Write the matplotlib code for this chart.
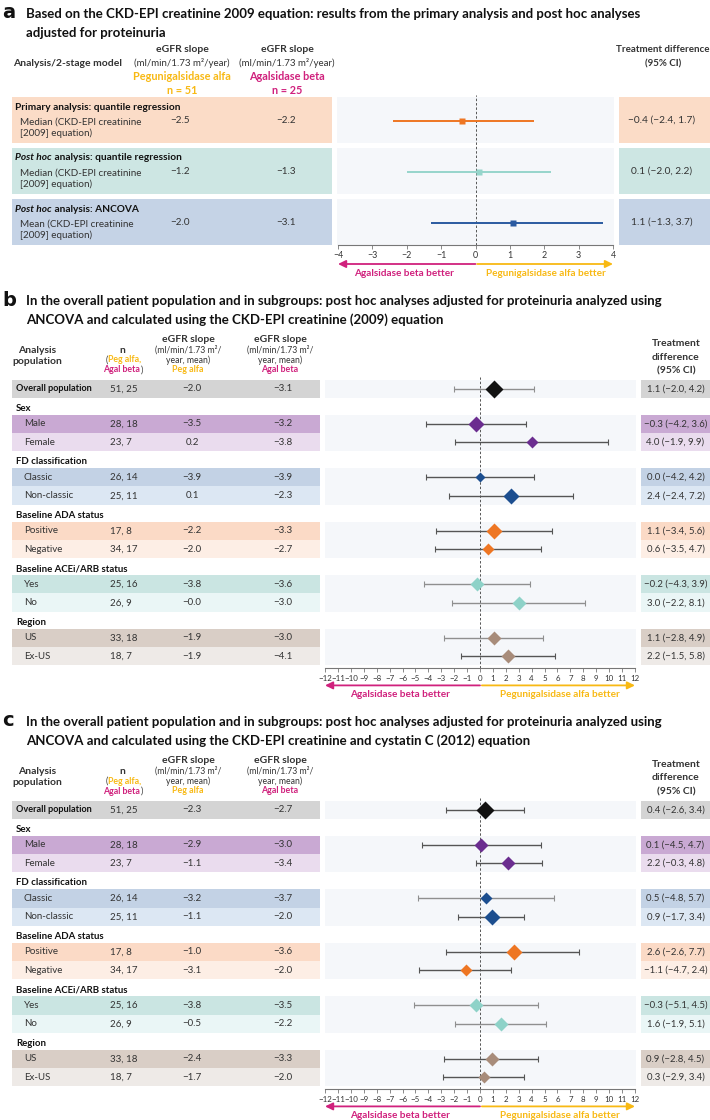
import matplotlib
matplotlib.use('Agg')
import matplotlib.pyplot as plt
import matplotlib.transforms as mtransforms
from matplotlib.patches import Rectangle

plt.rcParams['font.family'] = ['Lato', 'DejaVu Sans']

# ------------------------------------------------------------------ data
# Panel a
a_titles = [[('Primary analysis: quantile regression', 'normal')],
            [('Post hoc', 'italic'), (' analysis: quantile regression', 'normal')],
            [('Post hoc', 'italic'), (' analysis: ANCOVA', 'normal')]]
a_stat = ['Median', 'Median', 'Mean']
a_peg = [-2.5, -1.2, -2.0]
a_agal = [-2.2, -1.3, -3.1]
a_est = [-0.4, 0.1, 1.1]
a_lo = [-2.4, -2.0, -1.3]
a_hi = [1.7, 2.2, 3.7]
a_n_peg, a_n_agal = 51, 25
a_ticks = [-4, -3, -2, -1, 0, 1, 2, 3, 4]

# Panels b and c (shared rows)
row_labels = ['Overall population', 'Male', 'Female', 'Classic', 'Non-classic',
              'Positive', 'Negative', 'Yes', 'No', 'US', 'Ex-US']
group_labels = ['Sex', 'FD classification', 'Baseline ADA status',
                'Baseline ACEi/ARB status', 'Region']
n_peg = [51, 28, 23, 26, 25, 17, 34, 25, 26, 33, 18]
n_agal = [25, 18, 7, 14, 11, 8, 17, 16, 9, 18, 7]

b_peg = [-2.0, -3.5, 0.2, -3.9, 0.1, -2.2, -2.0, -3.8, -0.0, -1.9, -1.9]
b_agal = [-3.1, -3.2, -3.8, -3.9, -2.3, -3.3, -2.7, -3.6, -3.0, -3.0, -4.1]
b_est = [1.1, -0.3, 4.0, 0.0, 2.4, 1.1, 0.6, -0.2, 3.0, 1.1, 2.2]
b_lo = [-2.0, -4.2, -1.9, -4.2, -2.4, -3.4, -3.5, -4.3, -2.2, -2.8, -1.5]
b_hi = [4.2, 3.6, 9.9, 4.2, 7.2, 5.6, 4.7, 3.9, 8.1, 4.9, 5.8]

c_peg = [-2.3, -2.9, -1.1, -3.2, -1.1, -1.0, -3.1, -3.8, -0.5, -2.4, -1.7]
c_agal = [-2.7, -3.0, -3.4, -3.7, -2.0, -3.6, -2.0, -3.5, -2.2, -3.3, -2.0]
c_est = [0.4, 0.1, 2.2, 0.5, 0.9, 2.6, -1.1, -0.3, 1.6, 0.9, 0.3]
c_lo = [-2.6, -4.5, -0.3, -4.8, -1.7, -2.6, -4.7, -5.1, -1.9, -2.8, -2.9]
c_hi = [3.4, 4.7, 4.8, 5.7, 3.4, 7.7, 2.4, 4.5, 5.1, 4.5, 3.4]
bc_ticks = list(range(-12, 13))

# ------------------------------------------------------------------ styles
PEG = '#F8B914'
AGAL = '#D0217D'
TXT = '#333333'
PLOTBG = '#F5F7FA'
a_box = ['#FBDCC7', '#CDE6E3', '#C5D3E6']
a_mark = ['#EE7623', '#96D5CB', '#2A5AA0']
box_cols = ['#D4D4D4', '#C9A9D3', '#EADCEE', '#C3D2E5', '#DCE7F3', '#FBDAC6',
            '#FDEEE5', '#CAE5E2', '#EAF6F6', '#D9CEC6', '#EEEAE7']
mark_cols = ['#111111', '#6B2D8F', '#6B2D8F', '#1C4E8F', '#1C4E8F', '#EE7623',
             '#EE7623', '#8ED2C8', '#8ED2C8', '#A88C7A', '#A88C7A']
DARK, GREY = '#555555', '#8F8F8F'
b_ecol = [GREY, DARK, DARK, DARK, DARK, DARK, DARK, GREY, GREY, GREY, DARK]
c_ecol = [DARK, DARK, DARK, GREY, DARK, DARK, DARK, GREY, GREY, DARK, DARK]
b_dw = [18, 15, 11, 9, 15, 15, 11, 13, 13, 13, 13]   # diamond widths (px)
c_dw = [18, 13, 13, 11, 15, 15, 11, 13, 13, 13, 11]

TITLE_FS = 9.5
HDR_FS = 7.5
W, H = 710, 1120
fig = plt.figure(figsize=(7.1, 11.2), dpi=100)
L = fig.add_axes([0, 0, 1, 1])
L.set_xlim(0, W)
L.set_ylim(H, 0)
L.axis('off')
R = fig.canvas.get_renderer()


def fmt(v):
    return f'{v:.1f}'.replace('-', '\u2212')


def seg_text(x, y, segs, ha='center', size=6.5, va='center'):
    """segs: list of (text, color, weight, style)"""
    objs = []
    for s, col, wt, st in segs:
        t = L.text(0, y, s, color=col, fontsize=size, fontweight=wt,
                   fontstyle=st, va=va, ha='left')
        objs.append(t)
    widths = [t.get_window_extent(R).width for t in objs]
    total = sum(widths)
    x0 = x - total / 2 if ha == 'center' else x
    for t, w in zip(objs, widths):
        t.set_x(x0)
        x0 += w


def txt(x, y, s, size=6.5, color=TXT, weight='normal', ha='center', **kw):
    L.text(x, y, s, fontsize=size, color=color, fontweight=weight, ha=ha,
           va='center', **kw)


def rect(x0, y0, x1, y1, col):
    L.add_patch(Rectangle((x0, y0), x1 - x0, y1 - y0, facecolor=col,
                          edgecolor='none', zorder=0))


def forest_axes(x0, x1, y0, y1, ticks, tfs):
    ax = fig.add_axes([x0 / W, 1 - y1 / H, (x1 - x0) / W, (y1 - y0) / H])
    ax.set_xlim(ticks[0], ticks[-1])
    ax.set_ylim(y1, y0)
    ax.patch.set_alpha(0)
    for s in ['top', 'left', 'right']:
        ax.spines[s].set_visible(False)
    ax.spines['bottom'].set_color('#777777')
    ax.spines['bottom'].set_linewidth(0.8)
    ax.set_yticks([])
    ax.set_xticks(ticks)
    ax.set_xticklabels([fmt(t).replace('.0', '') for t in ticks])
    ax.tick_params(axis='x', length=3, width=0.6, color='#777777',
                   labelsize=tfs, labelcolor=TXT, pad=1.5)
    ax.axvline(0, color='#555555', lw=0.7, ls=(0, (2.5, 2)), zorder=1)
    return ax


def arrows(ax, y, lo, hi, ylab, size=7.2):
    tr = mtransforms.blended_transform_factory(ax.transData, L.transData)
    ax.annotate('', xy=(lo, y), xytext=(0, y), xycoords=tr, textcoords=tr,
                arrowprops=dict(arrowstyle='-|>,head_length=0.45,head_width=0.22',
                                color=AGAL, lw=1.3, shrinkA=0, shrinkB=0),
                annotation_clip=False)
    ax.annotate('', xy=(hi, y), xytext=(hi * 0.012, y), xycoords=tr, textcoords=tr,
                arrowprops=dict(arrowstyle='-|>,head_length=0.45,head_width=0.22',
                                color=PEG, lw=1.3, shrinkA=0, shrinkB=0),
                annotation_clip=False)
    p0 = ax.transData.transform((lo, 0))[0]
    pz = ax.transData.transform((0, 0))[0]
    p1 = ax.transData.transform((hi, 0))[0]
    txt((p0 + pz) / 2 - 3, ylab, 'Agalsidase beta better', size=size, color=AGAL, weight='bold')
    txt((pz + p1) / 2 + 2, ylab, 'Pegunigalsidase alfa better', size=size, color=PEG, weight='bold')


# ------------------------------------------------------------------ panel a
txt(2, 12, 'a', size=14, color='#111111', weight='bold', ha='left', family='DejaVu Sans')
txt(26, 14, 'Based on the CKD-EPI creatinine 2009 equation: results from the primary analysis and post hoc analyses',
    size=TITLE_FS, color='#111111', weight='bold', ha='left')
txt(26, 33, 'adjusted for proteinuria', size=TITLE_FS, color='#111111', weight='bold', ha='left')

txt(68, 63, 'Analysis/2-stage model', size=HDR_FS, weight='bold')
for cx, name, n, col in [(182, 'Pegunigalsidase alfa', a_n_peg, PEG),
                         (287, 'Agalsidase beta', a_n_agal, AGAL)]:
    txt(cx, 50, 'eGFR slope', size=HDR_FS, weight='bold')
    txt(cx, 63.5, '(ml/min/1.73 m\u00b2/year)', size=7.0)
    txt(cx, 77, name, size=7.8, color=col, weight='bold')
    txt(cx, 90, f'n = {n}', size=7.8, color=col, weight='bold')
txt(663, 50, 'Treatment difference', size=7.0, weight='bold')
txt(663, 63.5, '(95% CI)', size=7.0, weight='bold')

a_rows = [(97, 143), (148, 194), (199, 244.5)]
axa = forest_axes(338, 613, 95, 245, a_ticks, 6.4)
for i, (y0, y1) in enumerate(a_rows):
    rect(12, y0, 332, y1, a_box[i])
    rect(337, y0, 614, y1, PLOTBG)
    rect(619, y0, 710, y1, a_box[i])
    seg_text(15, y0 + 10, [(s, '#111111', 'bold', st) for s, st in a_titles[i]],
             ha='left', size=7.3)
    txt(20, y0 + 25, f'{a_stat[i]} (CKD-EPI creatinine', size=7.1, ha='left')
    txt(20, y0 + 36.5, '[2009] equation)', size=7.1, ha='left')
    yc = y0 + 23.5
    txt(180, yc, fmt(a_peg[i]), size=7.1)
    txt(286, yc, fmt(a_agal[i]), size=7.1)
    txt(662, yc, f'{fmt(a_est[i])} ({fmt(a_lo[i])}, {fmt(a_hi[i])})', size=7.3)
    axa.plot([a_lo[i], a_hi[i]], [yc, yc], color=a_mark[i], lw=1.4, solid_capstyle='butt', zorder=3)
    axa.plot([a_est[i]], [yc], marker='s', ms=4.0, color=a_mark[i], mec='none', zorder=4)
arrows(axa, 264, -4, 4, 273.5)


# ------------------------------------------------------------------ panels b, c
def layout(top):
    rh, gap = 18.4, 16.7
    y = top
    rows = [(y, y + rh)]
    y += rh
    hdr = []
    for g in range(len(group_labels)):
        hdr.append(y + gap * 0.62)
        y += gap
        rows.append((y, y + rh))
        y += rh
        rows.append((y, y + rh))
        y += rh
    return rows, hdr


def panel(letter, title1, title2, ttop, top, peg, agal, est, lo, hi, ecol, dw):
    txt(2, ttop - 1, letter, size=14, color='#111111', weight='bold', ha='left', family='DejaVu Sans')
    txt(26, ttop, title1, size=TITLE_FS, color='#111111', weight='bold', ha='left')
    txt(26, ttop + 19, title2, size=TITLE_FS, color='#111111', weight='bold', ha='left')
    h = top - 29  # header reference (≈ 351 for b)
    txt(37, h, 'Analysis', size=HDR_FS, weight='bold')
    txt(37, h + 11, 'population', size=HDR_FS, weight='bold')
    txt(122, h, 'n', size=HDR_FS, weight='bold')
    seg_text(123, h + 9.5, [('(', TXT, 'normal', 'normal'), ('Peg alfa,', PEG, 'bold', 'normal')], size=6.3)
    seg_text(123, h + 19.5, [('Agal beta', AGAL, 'bold', 'normal'), (')', TXT, 'normal', 'normal')], size=6.3)
    for cx, name, col in [(188, 'Peg alfa', PEG), (280, 'Agal beta', AGAL)]:
        txt(cx, h - 11, 'eGFR slope', size=HDR_FS, weight='bold')
        txt(cx, h - 1, '(ml/min/1.73 m\u00b2/', size=6.2)
        txt(cx, h + 9.5, 'year, mean)', size=6.2)
        txt(cx, h + 19, name, size=6.4, color=col, weight='bold')
    txt(676, h - 7, 'Treatment', size=HDR_FS, weight='bold')
    txt(676, h + 6.5, 'difference', size=HDR_FS, weight='bold')
    txt(676, h + 20, '(95% CI)', size=HDR_FS, weight='bold')

    rows, hdr = layout(top)
    axis_y = rows[-1][1] + 3
    ax = forest_axes(325, 635, top - 3, axis_y, bc_ticks, 5.7)
    # plot background blocks
    rect(325, rows[0][0], 636, rows[0][1], PLOTBG)
    for g in range(len(group_labels)):
        rect(325, rows[1 + 2 * g][0], 636, rows[2 + 2 * g][1], PLOTBG)
        txt(16, hdr[g], group_labels[g], size=6.9, weight='bold', ha='left', color='#111111')
    for i, (y0, y1) in enumerate(rows):
        yc = (y0 + y1) / 2
        rect(12, y0, 320, y1, box_cols[i])
        rect(641, y0, 710, y1, box_cols[i])
        if i == 0:
            txt(16, yc, row_labels[i], size=6.6, weight='bold', ha='left', color='#111111')
        else:
            txt(24, yc, row_labels[i], size=7.0, ha='left')
        txt(110, yc, f'{n_peg[i]}, {n_agal[i]}', size=7.0, ha='left')
        txt(192, yc, fmt(peg[i]), size=7.0)
        txt(283, yc, fmt(agal[i]), size=7.0)
        txt(675.5, yc, f'{fmt(est[i])} ({fmt(lo[i])}, {fmt(hi[i])})', size=6.9)
        ax.errorbar([est[i]], [yc], xerr=[[est[i] - lo[i]], [hi[i] - est[i]]],
                    fmt='none', ecolor=ecol[i], elinewidth=1.0, capsize=2.4,
                    capthick=0.8, zorder=3)
        ax.plot([est[i]], [yc], marker='D', ms=dw[i] * 0.51, color=mark_cols[i],
                mec='none', zorder=4)
    arrows(ax, axis_y + 17, -12, 12, axis_y + 26.5)


panel('b', 'In the overall patient population and in subgroups: post hoc analyses adjusted for proteinuria analyzed using',
      'ANCOVA and calculated using the CKD-EPI creatinine (2009) equation',
      301, 379.5, b_peg, b_agal, b_est, b_lo, b_hi, b_ecol, b_dw)
panel('c', 'In the overall patient population and in subgroups: post hoc analyses adjusted for proteinuria analyzed using',
      'ANCOVA and calculated using the CKD-EPI creatinine and cystatin C (2012) equation',
      722, 800.5, c_peg, c_agal, c_est, c_lo, c_hi, c_ecol, c_dw)

fig.savefig('out.png', dpi=100)
